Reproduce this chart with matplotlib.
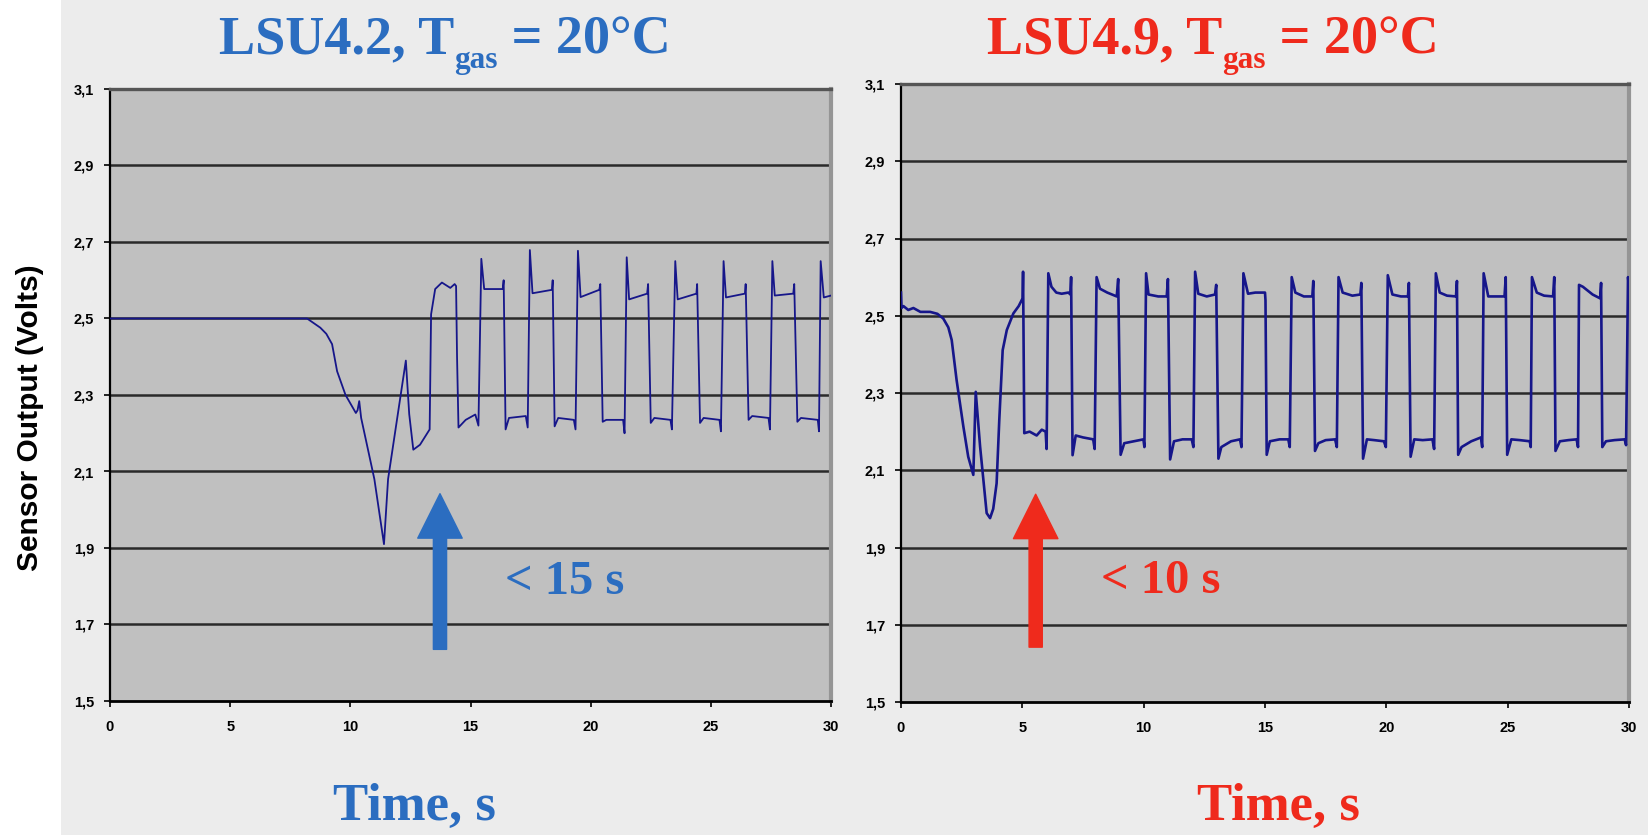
import matplotlib
matplotlib.use("Agg")
import matplotlib.pyplot as plt
import numpy as np
from matplotlib.patches import FancyArrowPatch, Rectangle
from matplotlib.ticker import FuncFormatter

# ──────────────────────────────────────────────────────────────────────────────
# Data (time in s, sensor output in V)
# ──────────────────────────────────────────────────────────────────────────────

t_lsu42 = [0, 8.2, 8.75, 9.0, 9.24, 9.45, 9.8, 10.23, 10.3, 10.37, 10.45, 11.0,
           11.4, 11.57, 12.31, 12.45, 12.62, 12.9, 13.25, 13.30, 13.36, 13.53,
           13.81, 14.16, 14.34, 14.40,
           14.44, 14.50, 14.8, 15.2, 15.33, 15.45, 15.57, 16.34, 16.38,
           16.46, 16.6, 17.3, 17.38, 17.47, 17.58, 18.39, 18.42,
           18.50, 18.65, 19.3, 19.37, 19.47, 19.58, 20.36, 20.40,
           20.50, 20.65, 21.35, 21.41, 21.50, 21.60, 22.35, 22.39,
           22.50, 22.65, 23.32, 23.38, 23.52, 23.62, 24.40, 24.43,
           24.55, 24.70, 25.36, 25.42, 25.53, 25.63, 26.42, 26.45,
           26.57, 26.72, 27.40, 27.46, 27.56, 27.66, 28.43, 28.47,
           28.60, 28.75, 29.45, 29.50, 29.57, 29.70, 30.0]
v_lsu42 = [2.50, 2.50, 2.476, 2.46, 2.433, 2.362, 2.30, 2.253, 2.26, 2.284, 2.24, 2.08,
           1.91, 2.08, 2.39, 2.25, 2.157, 2.17, 2.205, 2.21, 2.511, 2.577,
           2.594, 2.58, 2.59, 2.585,
           2.40, 2.215, 2.235, 2.249, 2.22, 2.656, 2.577, 2.577, 2.60,
           2.21, 2.24, 2.245, 2.215, 2.679, 2.566, 2.575, 2.60,
           2.218, 2.24, 2.235, 2.21, 2.677, 2.556, 2.575, 2.59,
           2.23, 2.235, 2.235, 2.20, 2.66, 2.55, 2.565, 2.59,
           2.227, 2.24, 2.235, 2.21, 2.65, 2.55, 2.565, 2.59,
           2.227, 2.24, 2.235, 2.205, 2.65, 2.555, 2.565, 2.59,
           2.235, 2.245, 2.24, 2.21, 2.65, 2.56, 2.565, 2.59,
           2.23, 2.24, 2.235, 2.205, 2.65, 2.555, 2.56]

t_lsu49 = [0, 0.02, 0.1, 0.3, 0.51, 0.8, 1.2, 1.5, 1.74, 1.95, 2.09, 2.29, 2.57,
           2.77, 2.98, 3.08, 3.26, 3.53, 3.67, 3.8, 3.94, 4.05, 4.19, 4.36, 4.63,
           4.85, 5.01, 5.03,
           5.08, 5.3, 5.59, 5.8, 5.96, 6.0, 6.07, 6.2, 6.4, 6.62, 6.9, 6.98, 7.01,
           7.07, 7.2, 7.5, 7.92, 7.98, 8.06, 8.2, 8.5, 8.89, 8.95,
           9.05, 9.2, 9.6, 9.99, 10.03, 10.1, 10.2, 10.6, 10.95, 11.0,
           11.09, 11.25, 11.6, 11.98, 12.05, 12.12, 12.25, 12.6, 12.94, 12.99,
           13.08, 13.2, 13.6, 13.97, 14.03, 14.11, 14.3, 14.6, 15.0, 15.02,
           15.07, 15.2, 15.6, 15.96, 16.02, 16.1, 16.25, 16.6, 16.95, 16.99,
           17.06, 17.2, 17.5, 17.89, 17.96, 18.03, 18.2, 18.6, 18.93, 18.97,
           19.04, 19.2, 19.5, 19.9, 19.98, 20.06, 20.25, 20.6, 20.89, 20.93,
           21.0, 21.15, 21.5, 21.9, 21.97, 22.04, 22.2, 22.5, 22.87, 22.91,
           22.96, 23.1, 23.5, 23.9, 23.95, 24.01, 24.2, 24.5, 24.87, 24.92,
           24.98, 25.15, 25.5, 25.91, 25.95, 26.0, 26.2, 26.5, 26.87, 26.92,
           26.97, 27.15, 27.5, 27.84, 27.9, 27.94, 28.1, 28.5, 28.81, 28.85,
           28.9, 29.05, 29.4, 29.82, 29.88, 29.96, 30.0]
v_lsu49 = [2.56, 2.52, 2.525, 2.515, 2.52, 2.51, 2.51, 2.505, 2.493, 2.47, 2.437, 2.334, 2.213,
           2.135, 2.088, 2.303, 2.161, 1.989, 1.976, 2.0, 2.066, 2.23, 2.411, 2.463, 2.506,
           2.525, 2.545, 2.614,
           2.196, 2.20, 2.19, 2.205, 2.20, 2.155, 2.61, 2.575, 2.56, 2.557, 2.56, 2.555, 2.60,
           2.139, 2.19, 2.185, 2.18, 2.155, 2.60, 2.57, 2.56, 2.55, 2.595,
           2.14, 2.17, 2.175, 2.18, 2.16, 2.61, 2.555, 2.55, 2.55, 2.595,
           2.128, 2.175, 2.18, 2.18, 2.16, 2.614, 2.557, 2.55, 2.555, 2.58,
           2.13, 2.16, 2.175, 2.18, 2.16, 2.61, 2.557, 2.56, 2.56, 2.54,
           2.14, 2.175, 2.18, 2.18, 2.16, 2.60, 2.56, 2.55, 2.55, 2.59,
           2.15, 2.17, 2.178, 2.18, 2.16, 2.60, 2.56, 2.552, 2.555, 2.585,
           2.13, 2.18, 2.178, 2.175, 2.16, 2.605, 2.555, 2.55, 2.55, 2.585,
           2.135, 2.18, 2.178, 2.18, 2.155, 2.61, 2.56, 2.552, 2.55, 2.59,
           2.14, 2.16, 2.175, 2.185, 2.16, 2.61, 2.55, 2.55, 2.55, 2.60,
           2.14, 2.18, 2.178, 2.175, 2.16, 2.60, 2.56, 2.552, 2.55, 2.60,
           2.15, 2.175, 2.178, 2.18, 2.16, 2.58, 2.575, 2.555, 2.545, 2.585,
           2.16, 2.175, 2.178, 2.18, 2.165, 2.60, 2.57]

x_ticks = [0, 5, 10, 15, 20, 25, 30]
y_ticks = [1.5, 1.7, 1.9, 2.1, 2.3, 2.5, 2.7, 2.9, 3.1]

BLUE = "#2b6dc0"
RED = "#ef2a1c"
LINE = "#16168a"

W, H = 1648, 835
fig = plt.figure(figsize=(W / 100, H / 100), dpi=100, facecolor="#ececec")
fig.patches.append(Rectangle((0, 0), 61 / W, 1, transform=fig.transFigure,
                             facecolor="white", edgecolor="none", zorder=-5))


def px_axes(left, top, right, bottom):
    return fig.add_axes([left / W, 1 - bottom / H, (right - left) / W, (bottom - top) / H])


def style_axes(ax):
    ax.set_facecolor("#c0c0c0")
    ax.set_xlim(0, 30)
    ax.set_ylim(1.5, 3.1)
    ax.set_xticks(x_ticks)
    ax.set_yticks(y_ticks)
    ax.yaxis.set_major_formatter(FuncFormatter(lambda v, _: f"{v:.1f}".replace(".", ",")))
    for y in y_ticks[1:-1]:
        ax.axhline(y, color="#2a2a2a", linewidth=1.8, zorder=1)
    ax.spines["left"].set_color("black")
    ax.spines["left"].set_linewidth(1.6)
    ax.spines["bottom"].set_color("black")
    ax.spines["bottom"].set_linewidth(2.0)
    ax.spines["top"].set_color("#555555")
    ax.spines["top"].set_linewidth(2.4)
    ax.spines["right"].set_color("#959595")
    ax.spines["right"].set_linewidth(3.0)
    ax.tick_params(direction="out", length=4.5, width=1.2, color="black", pad=7)
    for lab in ax.get_xticklabels() + ax.get_yticklabels():
        lab.set_fontfamily("Liberation Sans")
        lab.set_fontweight("bold")
        lab.set_fontsize(10.5)
    ax.tick_params(axis="x", pad=9)


def add_arrow(ax, x, y0, y1, color):
    arrow = FancyArrowPatch((x, y0), (x, y1), arrowstyle="simple,head_length=3.2,head_width=3.2,tail_width=0.95",
                            mutation_scale=10, color=color, shrinkA=0, shrinkB=0, zorder=4)
    ax.add_patch(arrow)


def draw_title(xc, y_base, color, main, sub, rest, size):
    kw = dict(family="Liberation Serif", fontweight="bold", color=color, transform=None)
    t1 = fig.text(0, 0, main, fontsize=size, va="baseline", ha="left", **kw)
    t2 = fig.text(0, 0, sub, fontsize=size * 0.58, va="baseline", ha="left", **kw)
    t3 = fig.text(0, 0, rest, fontsize=size, va="baseline", ha="left", **kw)
    r = fig.canvas.get_renderer()
    w1 = t1.get_window_extent(r).width
    w2 = t2.get_window_extent(r).width
    w3 = t3.get_window_extent(r).width
    x0 = xc - (w1 + w2 + w3) / 2
    yb = H - y_base
    t1.set_position((x0, yb))
    t2.set_position((x0 + w1, yb - 15))
    t3.set_position((x0 + w1 + w2, yb))


# Left panel: LSU4.2
ax1 = px_axes(110, 89, 831, 701)
style_axes(ax1)
ax1.plot(t_lsu42, v_lsu42, color=LINE, linewidth=1.3, zorder=3)
add_arrow(ax1, 13.73, 1.635, 2.042, BLUE)
ax1.text(16.44, 1.81, "< 15 s", family="Liberation Serif", fontweight="bold",
         fontsize=35, color=BLUE, va="center", ha="left")

# Right panel: LSU4.9
ax2 = px_axes(901, 84, 1629, 702)
style_axes(ax2)
ax2.plot(t_lsu49, v_lsu49, color=LINE, linewidth=1.9, zorder=3)
add_arrow(ax2, 5.55, 1.642, 2.038, RED)
ax2.text(8.24, 1.813, "< 10 s", family="Liberation Serif", fontweight="bold",
         fontsize=35, color=RED, va="center", ha="left")

fig.text(30 / W, 1 - 418 / H, "Sensor Output (Volts)", rotation=90, ha="center", va="center",
         family="Liberation Sans", fontweight="bold", fontsize=21.5, color="black")

draw_title(445, 53, BLUE, "LSU4.2, T", "gas", " = 20°C", 39)
draw_title(1213, 53, RED, "LSU4.9, T", "gas", " = 20°C", 39)

fig.text(414 / W, 1 - 820 / H, "Time, s", ha="center", va="baseline", family="Liberation Serif",
         fontweight="bold", fontsize=38, color=BLUE)
fig.text(1278 / W, 1 - 820 / H, "Time, s", ha="center", va="baseline", family="Liberation Serif",
         fontweight="bold", fontsize=38, color=RED)

fig.savefig("out.png", dpi=100, facecolor=fig.get_facecolor())
